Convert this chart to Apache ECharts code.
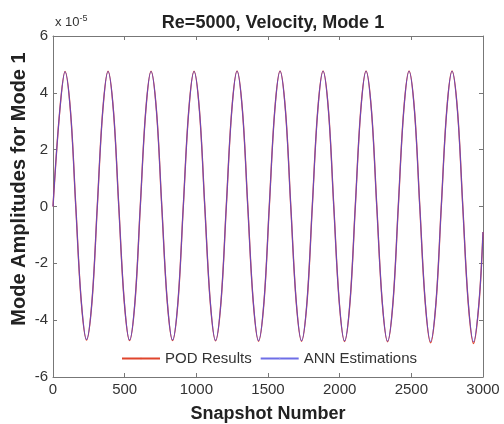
<!DOCTYPE html>
<html>
<head>
<meta charset="utf-8">
<script src="https://cdn.jsdelivr.net/npm/echarts@6/dist/echarts.min.js"></script>
<style>html,body{margin:0;padding:0;background:#fff}#c{width:504px;height:424px}</style>
</head>
<body>
<div id="c"></div>
<script>
// Data (mode amplitude in units of 1e-5)
var snapshots = [0,47,84,122,159,197,234,272,
309,347,384,422,459,497,534,572,
609,647,684,722,759,797,834,872,
909,947,984,1022,1059,1097,1134,1172,
1209,1247,1284,1322,1359,1397,1434,1472,
1509,1547,1584,1622,1659,1697,1734,1772,
1809,1847,1884,1922,1959,1997,2034,2072,
2109,2147,2184,2222,2259,2297,2334,2372,
2409,2447,2484,2522,2559,2597,2634,2672,
2709,2747,2784,2822,2859,2897,2934,2972,3000];
var podValues = [0.0,3.36,4.75,3.35,0.0,-3.33,-4.70,-3.34,
0.0,3.36,4.76,3.35,0.0,-3.34,-4.72,-3.35,
0.0,3.36,4.76,3.36,0.0,-3.34,-4.72,-3.35,
0.0,3.37,4.76,3.36,0.0,-3.35,-4.73,-3.36,
0.0,3.37,4.77,3.36,0.0,-3.35,-4.74,-3.36,
0.0,3.37,4.77,3.37,0.0,-3.36,-4.74,-3.37,
0.0,3.38,4.77,3.37,0.0,-3.36,-4.75,-3.37,
0.0,3.38,4.77,3.37,0.0,-3.37,-4.76,-3.38,
0.0,3.38,4.77,3.38,0.0,-3.38,-4.80,-3.39,
0.0,3.38,4.77,3.38,0.0,-3.39,-4.82,-3.40,-0.9];
var annValues = [0.0,3.35,4.74,3.35,0.0,-3.32,-4.68,-3.33,
0.0,3.36,4.75,3.35,0.0,-3.33,-4.70,-3.34,
0.0,3.36,4.75,3.36,0.0,-3.33,-4.70,-3.34,
0.0,3.36,4.75,3.36,0.0,-3.34,-4.71,-3.35,
0.0,3.36,4.76,3.36,0.0,-3.34,-4.72,-3.35,
0.0,3.37,4.76,3.36,0.0,-3.35,-4.72,-3.36,
0.0,3.37,4.76,3.37,0.0,-3.35,-4.73,-3.36,
0.0,3.37,4.76,3.37,0.0,-3.36,-4.74,-3.37,
0.0,3.37,4.76,3.37,0.0,-3.36,-4.75,-3.37,
0.0,3.37,4.76,3.37,0.0,-3.37,-4.76,-3.38,-0.9];
var xTicks = [0,500,1000,1500,2000,2500,3000];
var yTicks = [-6,-4,-2,0,2,4,6];

function pairs(xs, ys){ return xs.map(function(x,i){ return [x, ys[i]]; }); }

var chart = echarts.init(document.getElementById('c'), null, {renderer:'canvas'});
var font = 'Liberation Sans, Arial, sans-serif';
var axisCol = '#777';
chart.setOption({
  animation: false,
  backgroundColor: '#fff',
  title: {
    text: 'Re=5000, Velocity, Mode 1',
    left: 268, top: 9, textAlign: 'center',
    textStyle: {fontFamily: font, fontSize: 18, fontWeight: 'bold', color: '#222'}
  },
  graphic: [{
    type: 'text', left: 55, top: 14,
    style: {
      text: '{a|x 10}{b|-5}',
      rich: {
        a: {fontFamily: font, fontSize: 13, fill: '#333'},
        b: {fontFamily: font, fontSize: 9, fill: '#333', verticalAlign: 'top', padding: [0,0,8,0]}
      }
    }
  }, {
    type: 'text', x: 19, y: 189, rotation: Math.PI / 2,
    style: {
      text: 'Mode Amplitudes for Mode 1',
      fontFamily: font, fontSize: 20, fontWeight: 'bold', fill: '#222',
      align: 'center', verticalAlign: 'middle'
    }
  }],
  legend: {
    data: ['POD Results', 'ANN Estimations'],
    left: 116, top: 346,
    itemWidth: 38, itemHeight: 2, itemGap: 8,
    textStyle: {fontFamily: font, fontSize: 15, color: '#333'},
    backgroundColor: '#fff'
  },
  grid: {left: 53, right: 21, top: 36, bottom: 47, outerBoundsMode: 'none', containLabel: false},
  xAxis: [{
    type: 'value', min: 0, max: 3000, interval: 500,
    name: 'Snapshot Number', nameLocation: 'middle', nameGap: 28,
    nameTextStyle: {fontFamily: font, fontSize: 18, fontWeight: 'bold', color: '#222'},
    axisLine: {show: true, onZero: false, lineStyle: {color: axisCol}},
    axisTick: {show: true, inside: true, length: 4, lineStyle: {color: axisCol}},
    axisLabel: {fontFamily: font, fontSize: 15, color: '#333', margin: 5,
      formatter: function(v){ return xTicks.indexOf(v) >= 0 ? String(v) : ''; }},
    splitLine: {show: false}
  }, {
    type: 'value', position: 'top', min: 0, max: 3000, interval: 500,
    axisLine: {show: true, onZero: false, lineStyle: {color: axisCol}},
    axisTick: {show: true, inside: true, length: 4, lineStyle: {color: axisCol}},
    axisLabel: {show: false}, splitLine: {show: false}
  }],
  yAxis: [{
    type: 'value', min: -6, max: 6, interval: 2,
    axisLine: {show: true, onZero: false, lineStyle: {color: axisCol}},
    axisTick: {show: true, inside: true, length: 4, lineStyle: {color: axisCol}},
    axisLabel: {fontFamily: font, fontSize: 15, color: '#333', margin: 5,
      formatter: function(v){ return yTicks.indexOf(v) >= 0 ? String(v) : ''; }},
    splitLine: {show: false}
  }, {
    type: 'value', position: 'right', min: -6, max: 6, interval: 2,
    axisLine: {show: true, onZero: false, lineStyle: {color: axisCol}},
    axisTick: {show: true, inside: true, length: 4, lineStyle: {color: axisCol}},
    axisLabel: {show: false}, splitLine: {show: false}
  }],
  series: [{
    name: 'POD Results', type: 'line', xAxisIndex: 0, yAxisIndex: 0,
    data: pairs(snapshots, podValues), smooth: 0.35, symbol: 'none',
    lineStyle: {color: '#e0452c', width: 1.4}, itemStyle: {color: '#e0452c'}
  }, {
    name: 'ANN Estimations', type: 'line', xAxisIndex: 0, yAxisIndex: 0,
    data: pairs(snapshots, annValues), smooth: 0.35, symbol: 'none',
    lineStyle: {color: '#4a4ae0', width: 1.1, opacity: 0.8}, itemStyle: {color: '#8a8ae8'}
  }]
});
</script>
</body>
</html>
